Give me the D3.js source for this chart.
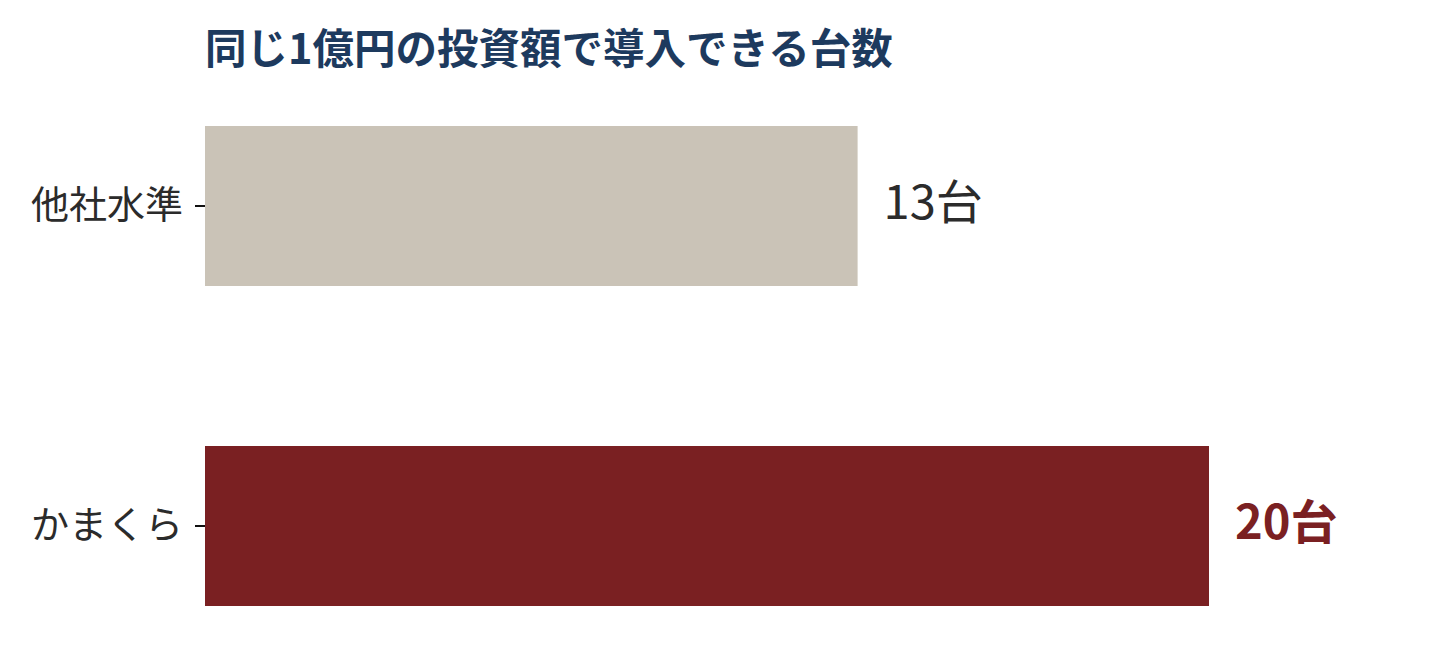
<!DOCTYPE html>
<html>
<head>
<meta charset="utf-8">
<script src="https://cdn.jsdelivr.net/npm/d3@7"></script>
<style>
html,body{margin:0;padding:0;background:#fff;}
svg{display:block;font-family:"Noto Sans CJK JP","Noto Sans",sans-serif;}
</style>
</head>
<body>
<svg id="chart" width="1440" height="660"></svg>
<script>
const categories = ["他社水準", "かまくら"];
const values = [13, 20];
const valueLabels = ["13台", "20台"];
const title = "同じ1億円の投資額で導入できる台数";

const barColors = ["#cac3b7", "#7a2022"];
const labelColors = ["#2b2b2b", "#7a2022"];
const labelWeights = ["400", "700"];

const svg = d3.select("#chart");
const margin = {left: 205, right: 231, top: 46, bottom: 0};

const x = d3.scaleLinear().domain([0, 20]).range([margin.left, 1209]);
const y = d3.scaleBand().domain(categories).range([46, 686]).paddingInner(0.5).paddingOuter(0.25);

svg.append("text")
  .attr("x", 205).attr("y", 64)
  .attr("fill", "#1d3a5e")
  .attr("font-size", 41.5)
  .attr("font-weight", 700)
  .text(title);

const data = categories.map((c, i) => ({c, v: values[i], label: valueLabels[i], i}));

svg.selectAll("rect.bar").data(data).join("rect")
  .attr("class", "bar")
  .attr("x", x(0))
  .attr("y", d => y(d.c))
  .attr("width", d => x(d.v) - x(0))
  .attr("height", y.bandwidth())
  .attr("fill", d => barColors[d.i]);

svg.selectAll("text.val").data(data).join("text")
  .attr("class", "val")
  .attr("x", d => x(d.v) + 26)
  .attr("y", d => y(d.c) + y.bandwidth() / 2)
  .attr("dy", "0.28em")
  .attr("font-size", 47)
  .attr("font-weight", d => labelWeights[d.i])
  .attr("fill", d => labelColors[d.i])
  .text(d => d.label);

const yAxis = svg.append("g")
  .attr("transform", `translate(${x(0)},0)`)
  .call(d3.axisLeft(y).tickSize(10).tickPadding(12));
yAxis.select(".domain").remove();
yAxis.selectAll(".tick line").attr("stroke", "#111").attr("stroke-width", 2);
yAxis.selectAll(".tick text")
  .attr("font-family", '"Noto Sans CJK JP","Noto Sans",sans-serif')
  .attr("font-size", 38)
  .attr("fill", "#2b2b2b");
</script>
</body>
</html>
